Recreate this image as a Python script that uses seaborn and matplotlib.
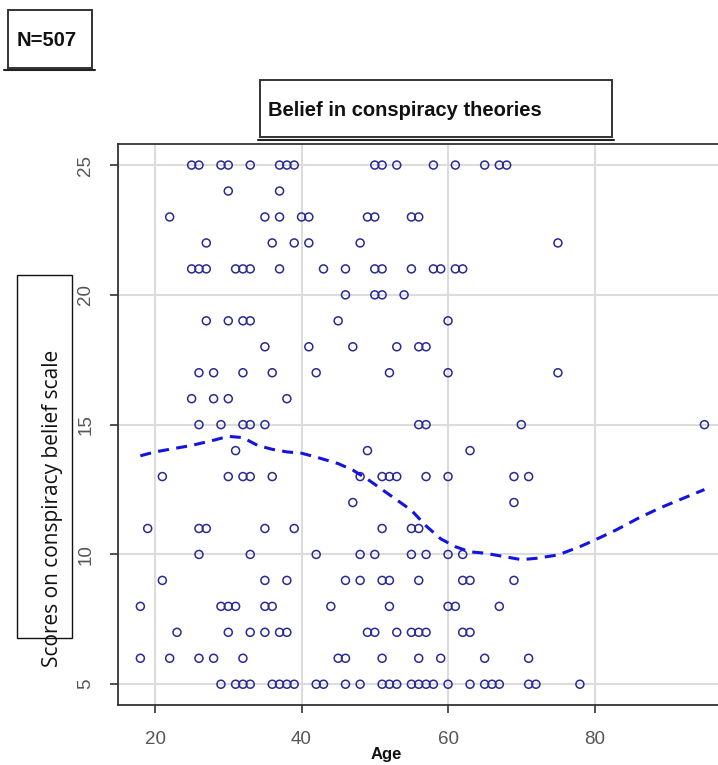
import matplotlib
matplotlib.use("Agg")
import matplotlib.pyplot as plt
import seaborn as sns
import pandas as pd
from matplotlib.patches import Rectangle
from matplotlib.lines import Line2D

# scores, one list of ages per score row
score_rows = {
    25: [25, 26, 29, 30, 33, 37, 38, 39, 50, 51, 53, 58, 61, 65, 67, 68],
    24: [30, 37],
    23: [22, 35, 37, 40, 41, 49, 50, 55, 56],
    22: [27, 36, 39, 41, 48, 75],
    21: [25, 26, 27, 31, 32, 33, 37, 43, 46, 50, 51, 55, 58, 59, 61, 62],
    20: [46, 50, 51, 54],
    19: [27, 30, 32, 33, 45, 60],
    18: [35, 41, 47, 53, 56, 57],
    17: [26, 28, 32, 36, 42, 52, 60, 75],
    16: [25, 28, 30, 38],
    15: [26, 29, 32, 33, 35, 56, 57, 70, 95],
    14: [31, 49, 63],
    13: [21, 30, 32, 33, 36, 48, 51, 52, 53, 57, 60, 69, 71],
    12: [47, 69],
    11: [19, 26, 27, 35, 39, 51, 55, 56],
    10: [26, 33, 42, 48, 50, 55, 57, 60, 62],
    9: [21, 35, 38, 46, 48, 51, 52, 56, 62, 63, 69],
    8: [18, 29, 30, 31, 35, 36, 44, 52, 60, 61, 67],
    7: [23, 30, 33, 35, 37, 38, 49, 50, 53, 55, 56, 57, 62, 63],
    6: [18, 22, 26, 28, 32, 45, 46, 51, 56, 59, 65, 71],
    5: [29, 31, 32, 33, 36, 37, 38, 39, 42, 43, 46, 48, 51, 52, 53, 55, 56,
        57, 58, 60, 63, 65, 66, 67, 71, 72, 78],
}

# smoothed (loess-like) curve
curve_age = [18, 20, 25, 28, 30, 32, 34, 36, 38, 40, 42, 45, 47, 49, 51, 53,
             55, 57, 59, 61, 63, 65, 67, 70, 72, 75, 78, 80, 83, 86, 89, 92, 95]
curve_score = [13.8, 13.95, 14.2, 14.4, 14.55, 14.5, 14.2, 14.05, 13.95, 13.9,
               13.75, 13.5, 13.25, 12.9, 12.5, 12.1, 11.7, 11.1, 10.6, 10.3,
               10.1, 10.05, 9.95, 9.8, 9.85, 9.98, 10.3, 10.55, 10.95, 11.4,
               11.8, 12.15, 12.5]

x_ticks = [20, 40, 60, 80]
y_ticks = [5, 10, 15, 20, 25]

ages, scores = [], []
for s, row in score_rows.items():
    ages += row
    scores += [s] * len(row)
points = pd.DataFrame({"age": ages, "score": scores})
curve = pd.DataFrame({"age": curve_age, "score": curve_score})

sns.set_style("white")
plt.rcParams['font.family'] = ['Liberation Sans', 'DejaVu Sans']

W, H = 718, 765
fig = plt.figure(figsize=(W / 100, H / 100), dpi=100)


def fx(x):
    return x / W


def fy(y):
    return 1 - y / H


ax = fig.add_axes([fx(117.8), fy(705), (727 - 117.8) / W, (705 - 144.3) / H])

ax.grid(True, color='#dcdcdc', linewidth=1.5, zorder=0)
ax.set_axisbelow(True)

sns.scatterplot(data=points, x="age", y="score", ax=ax, marker='o',
                facecolors='none', edgecolor='#2a2a94', linewidth=1.1, s=33,
                zorder=3)
sns.lineplot(data=curve, x="age", y="score", ax=ax, color='#1414e0',
             linewidth=2.2, dashes=(3.6, 2.4), zorder=4)

ax.set_xlim(14.92, 98.08)
ax.set_ylim(4.2, 25.8)
ax.set_xticks(x_ticks)
ax.set_yticks(y_ticks)
ax.set_xlabel("")
ax.set_ylabel("")
for side in ['left', 'bottom', 'top']:
    ax.spines[side].set_color('#333333')
    ax.spines[side].set_linewidth(1.3)
ax.spines['right'].set_visible(False)
ax.tick_params(axis='both', direction='out', length=6, width=1.2,
               color='#333333', labelsize=13.5, labelcolor='#555555',
               left=True, bottom=True)
ax.tick_params(axis='x', pad=13)
ax.tick_params(axis='y', pad=11)
for lab in ax.get_yticklabels():
    lab.set_rotation(90)
    lab.set_va('center')

# N=507 box
fig.add_artist(Rectangle((fx(8), fy(68)), fx(84), 58 / H, transform=fig.transFigure,
                         fill=False, edgecolor='#333333', linewidth=1.4))
fig.add_artist(Line2D([fx(4), fx(95)], [fy(70), fy(70)], transform=fig.transFigure,
                      color='#222222', linewidth=1.5))
fig.text(fx(17), fy(40), "N=507", fontsize=14.5, fontweight='bold',
         ha='left', va='center', color='#111111')

# title box
fig.add_artist(Rectangle((fx(260), fy(137)), fx(352), 57 / H, transform=fig.transFigure,
                         fill=False, edgecolor='#333333', linewidth=1.4))
fig.add_artist(Line2D([fx(258), fx(614)], [fy(140), fy(140)], transform=fig.transFigure,
                      color='#222222', linewidth=1.5))
fig.text(fx(268), fy(110), "Belief in conspiracy theories", fontsize=14.5,
         fontweight='bold', ha='left', va='center', color='#111111')

# y label box
fig.add_artist(Rectangle((fx(17), fy(638)), fx(55), 363 / H, transform=fig.transFigure,
                         fill=False, edgecolor='#111111', linewidth=1.0))
fig.text(fx(53), fy(508), "Scores on conspiracy belief scale", fontsize=15,
         family=['Open Sans', 'DejaVu Sans'], rotation=90, ha='center', va='center',
         color='#111111')

fig.text(fx(386), fy(755), "Age", fontsize=12, fontweight='bold', ha='center',
         va='center', color='#111111')

fig.savefig("out.png", dpi=100)
